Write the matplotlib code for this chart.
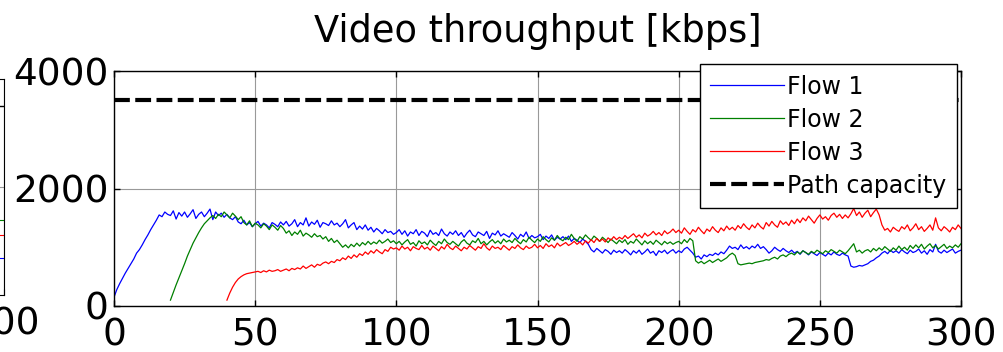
import matplotlib
matplotlib.use('Agg')
import matplotlib.pyplot as plt
import numpy as np

plt.rcParams['font.family'] = ['DejaVu Sans']

# Path capacity and per-flow throughput [kbps], one value per second
capacity = 3500
flow_labels = ['Flow 1', 'Flow 2', 'Flow 3', 'Path capacity']
flow_starts = [0, 20, 40]
x_ticks = [0, 50, 100, 150, 200, 250, 300]
y_ticks = [0, 2000, 4000]

flow1 = [
    150, 280, 380, 470, 560, 640, 720, 800, 900, 960, 1040, 1130, 1210, 1300, 1380, 1460, 1550, 1520, 1600, 1560,
    1540, 1620, 1480, 1590, 1530, 1600, 1510, 1570, 1640, 1490, 1560, 1600, 1520, 1580, 1650, 1470, 1600, 1540, 1580, 1510,
    1560, 1500, 1470, 1520, 1430, 1400, 1460, 1380, 1420, 1350, 1400, 1440, 1360, 1410, 1380, 1330, 1420, 1390, 1350, 1430,
    1380, 1440, 1360, 1400, 1470, 1350, 1420, 1380, 1500, 1360, 1430, 1390, 1460, 1340, 1420, 1400, 1370, 1450, 1380, 1410,
    1350, 1400, 1470, 1330, 1380, 1420, 1300, 1360, 1310, 1380, 1290, 1340, 1260, 1320, 1280, 1230, 1300, 1250, 1270, 1220,
    1250, 1300, 1220, 1280, 1190, 1260, 1230, 1300, 1200, 1270, 1240, 1180, 1290, 1220, 1250, 1200, 1310, 1230, 1190, 1260,
    1220, 1280, 1200, 1250, 1170, 1240, 1290, 1210, 1180, 1260, 1230, 1200, 1270, 1150, 1240, 1210, 1280, 1190, 1230, 1200,
    1170, 1250, 1200, 1140, 1220, 1180, 1260, 1150, 1200, 1160, 1180, 1220, 1130, 1190, 1150, 1210, 1120, 1170, 1140, 1180,
    1130, 1190, 1100, 1150, 1120, 1080, 1140, 1100, 1050, 960, 920, 980, 940, 900, 960, 930, 880, 950, 910, 940,
    900, 960, 920, 870, 940, 900, 950, 880, 920, 970, 900, 930, 860, 940, 910, 950, 890, 930, 960, 900,
    940, 910, 970, 1000, 950, 900, 830, 850, 800, 870, 840, 880, 860, 900, 870, 920, 890, 950, 1020, 980,
    1000, 960, 1040, 980, 1010, 970, 1020, 990, 1050, 980, 1010, 960, 900, 940, 1000, 960, 930, 980, 940, 910,
    950, 900, 930, 880, 940, 910, 870, 920, 890, 860, 910, 880, 850, 900, 870, 920, 880, 860, 900, 870,
    850, 680, 660, 670, 690, 680, 700, 720, 760, 780, 820, 850, 900, 930, 890, 950, 910, 940, 900, 960,
    920, 890, 950, 910, 930, 970, 900, 940, 880, 960, 920, 1050, 930, 900, 950, 910, 940, 970, 900, 930, 950,
]

flow2 = [
    100, 230, 360, 480, 600, 720, 850, 960, 1070, 1160, 1250, 1330, 1400, 1450, 1500, 1540, 1490, 1560, 1520, 1600,
    1550, 1500, 1580, 1530, 1470, 1520, 1420, 1380, 1450, 1350, 1410, 1380, 1330, 1400, 1360, 1300, 1380, 1340, 1290, 1370,
    1320, 1240, 1280, 1200, 1260, 1220, 1290, 1190, 1240, 1210, 1170, 1230, 1180, 1200, 1140, 1180, 1100, 1150, 1080, 1120,
    1060, 1000, 1040, 990, 1050, 1010, 1070, 1020, 1080, 1040, 1100, 1050, 1090, 1060, 1120, 1070, 1100, 1140, 1080, 1110,
    1060, 1100, 1040, 1090, 1130, 1050, 1080, 1020, 1110, 1060, 1090, 1040, 1120, 1070, 1030, 1100, 1060, 1140, 1080, 1050,
    1100, 1060, 1020, 1090, 1130, 1070, 1040, 1110, 1080, 1150, 1060, 1100, 1040, 1090, 1130, 1070, 1110, 1060, 1140, 1090,
    1120, 1080, 1150, 1100, 1060, 1130, 1090, 1170, 1120, 1080, 1140, 1100, 1180, 1130, 1090, 1160, 1120, 1200, 1140, 1110,
    1170, 1130, 1220, 1150, 1100, 1180, 1140, 1210, 1160, 1120, 1190, 1150, 1100, 1170, 1130, 1080, 1140, 1100, 1060, 1120,
    1080, 1130, 1050, 1100, 1070, 1140, 1090, 1040, 1110, 1060, 1100, 1050, 1120, 1080, 1040, 1100, 1060, 1090, 1050, 1080,
    1100, 1060, 1130, 1080, 1150, 1110, 770, 730, 760, 720, 750, 780, 740, 770, 800, 760, 790, 820, 870, 900,
    860, 720, 700, 710, 720, 730, 720, 740, 750, 760, 770, 790, 780, 810, 830, 800, 850, 870, 840, 880,
    900, 870, 920, 890, 940, 910, 880, 930, 900, 950, 920, 890, 940, 910, 960, 930, 900, 950, 920, 890,
    940, 1000, 1060, 920, 950, 900, 940, 960, 920, 980, 940, 990, 950, 1010, 970, 930, 990, 950, 1020, 960,
    1000, 950, 1030, 980, 1040, 990, 1050, 970, 1020, 1060, 990, 1030, 970, 1010, 1050, 980, 1020, 990, 1040, 1000, 1060,
]

flow3 = [
    100, 220, 320, 400, 460, 500, 530, 550, 560, 570, 580, 590, 570, 600, 580, 610, 590, 600, 620, 590,
    610, 630, 600, 640, 620, 650, 630, 680, 640, 670, 700, 660, 710, 690, 730, 750, 720, 760, 740, 790,
    770, 820, 790, 850, 810, 870, 830, 890, 860, 920, 880, 940, 900, 960, 920, 890, 960, 930, 1000, 970,
    990, 950, 1020, 970, 1000, 940, 1010, 980, 960, 1030, 970, 1000, 950, 1020, 980, 940, 1010, 970, 1050, 990,
    960, 1020, 980, 940, 1000, 970, 1030, 990, 950, 1010, 980, 1060, 990, 950, 1020, 980, 1000, 960, 1030, 990,
    950, 1010, 980, 1040, 990, 960, 1020, 980, 1000, 1050, 990, 1030, 980, 1060, 1010, 1040, 990, 1070, 1020, 1050,
    1080, 1030, 1060, 1100, 1050, 1090, 1040, 1110, 1070, 1130, 1080, 1150, 1100, 1140, 1090, 1160, 1120, 1180, 1130, 1170,
    1140, 1200, 1150, 1190, 1230, 1170, 1210, 1160, 1240, 1190, 1220, 1270, 1210, 1250, 1200, 1280, 1230, 1260, 1310, 1250,
    1290, 1240, 1330, 1270, 1220, 1300, 1260, 1340, 1280, 1230, 1310, 1270, 1350, 1290, 1250, 1330, 1280, 1360, 1300, 1340,
    1290, 1370, 1320, 1400, 1340, 1300, 1380, 1330, 1410, 1350, 1310, 1420, 1360, 1440, 1380, 1340, 1450, 1390, 1430, 1370,
    1460, 1400, 1480, 1420, 1500, 1450, 1530, 1470, 1410, 1490, 1550, 1480, 1520, 1460, 1540, 1580, 1510, 1560, 1490, 1550,
    1500, 1570, 1660, 1540, 1600, 1510, 1580, 1630, 1520, 1590, 1650, 1550, 1380, 1290, 1320, 1260, 1340, 1300, 1270, 1350,
    1310, 1380, 1280, 1330, 1400, 1300, 1350, 1270, 1320, 1380, 1290, 1500, 1330, 1280, 1350, 1310, 1260, 1340, 1300, 1380, 1320,
]

# last values of the neighbouring (cropped) panel, visible at the left edge
left_panel_ends = [685, 1390, 1110]

colors = ['b', 'g', 'r']

fig = plt.figure(figsize=(10.04, 3.52), dpi=100)

# cropped neighbour panel, only its right edge shows
axl = fig.add_axes([-0.5, 57 / 352, 0.5 + 4 / 1004, 216 / 352])
for val, c in zip(left_panel_ends, colors):
    axl.axhline(val, xmin=0.99, color=c, lw=0.8)
axl.axhline(capacity, color='k', lw=1)
axl.set_xlim(0, 300)
axl.set_ylim(0, 4000)
axl.set_xticks([300])
axl.set_yticks([2000])
axl.set_yticklabels([])
axl.grid(True, color='#999999', lw=0.8)
axl.tick_params(direction='in', labelsize=27, pad=8, length=4)

ax = fig.add_axes([114 / 1004, 46 / 352, 847 / 1004, 235 / 352])
for vals, start, c, lab in zip([flow1, flow2, flow3], flow_starts, colors, flow_labels):
    t = np.linspace(start, 300, len(vals))
    ax.plot(t, vals, color=c, lw=0.9, label=lab)
ax.axhline(capacity, color='k', lw=3, dashes=(3.8, 1.3), label=flow_labels[3])

ax.set_xlim(0, 300)
ax.set_ylim(0, 4000)
ax.set_xticks(x_ticks)
ax.set_yticks(y_ticks)
ax.grid(True, color='#999999', lw=0.8)
ax.tick_params(direction='in', top=True, right=True, length=4, width=1, labelsize=27)
ax.tick_params(axis='x', pad=8)
ax.tick_params(axis='y', pad=4)
for s in ax.spines.values():
    s.set_linewidth(1)
ax.set_title('Video throughput [kbps]', fontsize=26.5, pad=21)

leg = ax.legend(loc='upper right', bbox_to_anchor=(957 / 1004, (352 - 64) / 352),
                bbox_transform=fig.transFigure, borderaxespad=0, fontsize=17,
                fancybox=False, framealpha=1, edgecolor='k', handlelength=3.1,
                handletextpad=0.15, labelspacing=0.38, borderpad=0.45)
leg.get_frame().set_linewidth(1)

fig.savefig('out.png', dpi=100)
